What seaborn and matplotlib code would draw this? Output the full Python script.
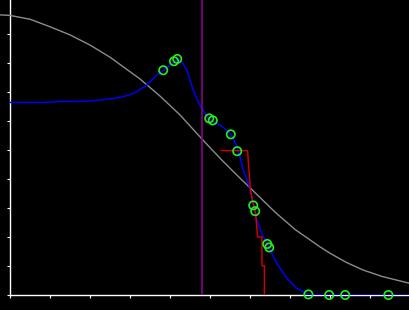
import matplotlib
matplotlib.use("Agg")
import matplotlib.pyplot as plt
import seaborn as sns
import pandas as pd

# ---- data ----
gray_x = [-0.25, 0.0, 0.5, 1.0, 1.5, 2.0, 2.5, 3.0, 3.25, 3.75, 4.25, 4.825,
          5.29, 5.75, 6.29, 6.625, 7.125, 7.75, 8.0, 8.4, 8.83, 9.3, 10.0]
gray_y = [0.966, 0.964, 0.951, 0.925, 0.897, 0.862, 0.820, 0.770, 0.745, 0.686,
          0.621, 0.534, 0.466, 0.403, 0.331, 0.286, 0.226, 0.166, 0.144, 0.113,
          0.086, 0.064, 0.040]

blue_x = [0.0, 0.825, 1.25, 1.9, 2.25, 2.5, 2.75, 3.0, 3.17, 3.25, 3.42, 3.67,
          3.83, 4.08, 4.21, 4.29, 4.42, 4.5, 4.58, 4.71, 4.82, 4.96, 5.08, 5.29,
          5.46, 5.54, 5.67, 5.73, 5.83, 6.0, 6.08, 6.17, 6.29, 6.46, 6.67, 6.92,
          7.17, 7.46, 10.0]
blue_y = [0.664, 0.664, 0.667, 0.668, 0.672, 0.677, 0.681, 0.691, 0.701, 0.709,
          0.724, 0.759, 0.774, 0.801, 0.813, 0.804, 0.776, 0.741, 0.707, 0.664,
          0.638, 0.609, 0.598, 0.583, 0.563, 0.552, 0.511, 0.488, 0.431, 0.368,
          0.309, 0.259, 0.213, 0.169, 0.109, 0.058, 0.023, 0.002, 0.0]

red_x = [5.275, 5.94, 5.96, 6.01, 6.08, 6.14, 6.19, 6.3, 6.3, 6.36, 6.36]
red_y = [0.498, 0.498, 0.455, 0.362, 0.317, 0.283, 0.2, 0.2, 0.101, 0.101, 0.0]

pts_x = [3.83, 4.10, 4.18, 4.98, 5.07, 5.52, 5.68, 6.08, 6.13, 6.43, 6.48,
         7.46, 7.98, 8.38, 9.46]
pts_y = [0.775, 0.806, 0.814, 0.609, 0.602, 0.554, 0.496, 0.309, 0.289, 0.176,
         0.164, 0.002, 0.0, 0.0, 0.0]

vline_x = 4.81

x_ticks = [0, 1, 2, 3, 4, 5, 6, 7, 8, 9]
y_ticks = [0.0, 0.1, 0.2, 0.3, 0.4, 0.5, 0.6, 0.7, 0.8, 0.9]

# ---- figure ----
sns.set_style("dark")
fig = plt.figure(figsize=(4.1, 3.1), dpi=100, facecolor="black")
ax = fig.add_axes([10 / 410, 15 / 310, 400 / 410, 295 / 310])
ax.set_facecolor("black")

gray_df = pd.DataFrame({"x": gray_x, "y": gray_y})
blue_df = pd.DataFrame({"x": blue_x, "y": blue_y})
red_df = pd.DataFrame({"x": red_x, "y": red_y})
pts_df = pd.DataFrame({"x": pts_x, "y": pts_y})

sns.lineplot(data=gray_df, x="x", y="y", ax=ax, color="#8c8c8c", linewidth=1.0,
             estimator=None, sort=False, clip_on=False, zorder=2)
sns.lineplot(data=blue_df, x="x", y="y", ax=ax, color="#0000ff", linewidth=1.05,
             estimator=None, sort=False, zorder=3)
sns.lineplot(data=red_df, x="x", y="y", ax=ax, color="#d00000", linewidth=1.05,
             estimator=None, sort=False, zorder=4)
ax.axvline(vline_x, color="#8b008b", linewidth=1.2, zorder=3)
sns.scatterplot(data=pts_df, x="x", y="y", ax=ax, marker="o", s=36,
                facecolors="none", edgecolors="#22ee22", linewidth=1.2,
                clip_on=False, zorder=5)

ax.set_xlim(0, 10)
ax.set_ylim(0, 295 / 290)
ax.set_xticks(x_ticks)
ax.set_yticks(y_ticks)
ax.set_xticklabels([])
ax.set_yticklabels([])
ax.set_xlabel("")
ax.set_ylabel("")
ax.grid(False)
ax.tick_params(axis="both", colors="white", length=2.5, width=0.8, direction="out",
               bottom=True, left=True)
for side in ["top", "right"]:
    ax.spines[side].set_visible(False)
for side in ["left", "bottom"]:
    ax.spines[side].set_visible(True)
    ax.spines[side].set_color("white")
    ax.spines[side].set_linewidth(1.0)
    ax.spines[side].set_zorder(1)

fig.savefig("out.png", dpi=100, facecolor="black")
